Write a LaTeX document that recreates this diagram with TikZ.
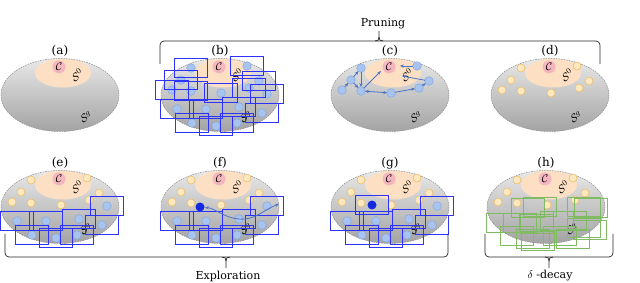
\documentclass[tikz,border=0pt]{standalone}
\usepackage{fontspec}
\setmainfont{DejaVu Serif}
\usetikzlibrary{arrows.meta}
\definecolor{peach}{RGB}{253,224,196}
\definecolor{pinkc}{RGB}{245,182,192}
\definecolor{dotblue}{RGB}{168,196,238}
\definecolor{dotblueline}{RGB}{125,162,225}
\definecolor{dotor}{RGB}{253,233,192}
\definecolor{dotorline}{RGB}{238,188,105}
\definecolor{boxblue}{RGB}{45,50,255}
\definecolor{boxgreen}{RGB}{128,186,98}
\definecolor{arrowblue}{RGB}{75,115,200}
\definecolor{darkdot}{RGB}{20,40,220}
\tikzset{
  space/.style={top color=black!9, bottom color=black!36},
  spaceline/.style={draw=black!45, dash pattern=on 1.6pt off 1pt, line width=0.5pt},
  odot/.style={fill=dotor, draw=dotorline, line width=0.6pt},
  bdot/.style={fill=dotblue, draw=dotblueline, line width=0.4pt},
  ddot/.style={fill=darkdot},
  bbox/.style={draw=boxblue, line width=0.85pt},
  gbox/.style={draw=boxgreen, line width=0.7pt},
  walk/.style={draw=arrowblue, line width=0.8pt, -{Stealth[length=3.8pt,width=3.2pt]}},
  plabel/.style={font=\fontsize{12}{14}\selectfont, inner sep=0pt},
  blabel/.style={font=\fontsize{11}{13}\selectfont, inner sep=0pt},
  slabel/.style={font=\fontsize{11}{13}\selectfont, inner sep=0pt, rotate=35},
  clabel/.style={font=\fontsize{11}{13}\selectfont, inner sep=0pt},
  brace/.style={draw=black!85, line width=0.7pt, rounded corners=4pt}
}
\def\Olist{-29/-25, -39/-13, -48/-3, -29/-2, 1/0, 27/-27, 39/-12, 29/-5}
\def\Blist{47/1, -43/16, -14/16, 19/14, 42/20, -28/30, -4/33, 17/30}
\def\Glist{-18/3, -6/2, 38/2, 45/3, -43/18, -26/18, -9/19, 11/16, 24/16, 38/23, 44/25, -29/31, -13/34, -8/36, 14/31, 27/34}
\newcommand\drawpanel[4]{%
  \begin{scope}[shift={(#1,#2)}]
    \path[space] (0,2) ellipse [x radius=59, y radius=36.5];
    \begin{scope}
      \clip (0,2) ellipse [x radius=59, y radius=36.5];
      \fill[peach] (3,-20) ellipse [x radius=28, y radius=14.5];
    \end{scope}
    \draw[spaceline] (0,2) ellipse [x radius=59, y radius=36.5];
    \fill[pinkc] (-1,-26) circle (6.5);
    \node[clabel] (c#4) at (-1,-26) {$\mathcal{C}$};
    \node[slabel] (si#4) at (17,-18) {$\mathcal{S}^0$};
    \node[slabel] (so#4) at (26,24) {$\mathcal{S}^g$};
    \node[plabel] (l#4) at (0,-42) {(#3)};
  \end{scope}}
\newcommand\odots[2]{\foreach \dx/\dy in \Olist {\draw[odot] ({#1+\dx},{#2+\dy}) circle (4);}}
\newcommand\bdotsO[2]{\foreach \dx/\dy in \Olist {\draw[bdot] ({#1+\dx},{#2+\dy}) circle (4.3);}}
\newcommand\bdotsB[2]{\foreach \dx/\dy in \Blist {\draw[bdot] ({#1+\dx},{#2+\dy}) circle (4.3);}}
\newcommand\bboxesO[2]{\foreach \dx/\dy in \Olist {\draw[bbox] ({#1+\dx-16.7},{#2+\dy-9.5}) rectangle ++(33.4,19);}}
\newcommand\bboxesB[2]{\foreach \dx/\dy in \Blist {\draw[bbox] ({#1+\dx-16.7},{#2+\dy-9.5}) rectangle ++(33.4,19);}}
\begin{document}
\begin{tikzpicture}[x=1pt,y=-1pt]
\useasboundingbox (0,0) rectangle (640,283);
% ---------- top row ----------
\drawpanel{60}{93}{a}{a}
\drawpanel{220}{93}{b}{b}
\bdotsO{220}{93}\bdotsB{220}{93}
\bboxesO{220}{93}\bboxesB{220}{93}
\drawpanel{390}{93}{c}{c}
\bdotsO{390}{93}
\coordinate (p1) at (361,68);
\coordinate (p2) at (351,80);
\coordinate (p3) at (342,90);
\coordinate (p4) at (361,91);
\coordinate (p5) at (391,93);
\coordinate (p6) at (417,66);
\coordinate (p7) at (429,81);
\coordinate (p8) at (419,88);
\coordinate (t6) at (400,66);
\coordinate (t4) at (381,71);
\coordinate (t7) at (402,76);
\draw[walk, shorten <=4pt, shorten >=4pt] (p3) -- (p2);
\draw[walk, shorten <=4pt, shorten >=4pt] (p2) -- (p1);
\draw[walk, shorten <=4pt, shorten >=4pt] (p1) -- (p4);
\draw[walk, shorten <=4pt, shorten >=4pt] (p2) -- (p4);
\draw[walk, {Stealth[length=3.8pt,width=3.2pt]}-{Stealth[length=3.8pt,width=3.2pt]}, shorten <=4pt, shorten >=4pt] (p4) -- (p5);
\draw[walk, shorten <=4pt, shorten >=4pt] (p5) -- (p8);
\draw[walk, shorten <=4pt, shorten >=4pt] (p8) -- (p7);
\draw[walk, shorten <=4pt] (p7) -- (t7);
\draw[walk, shorten <=4pt] (p6) -- (t6);
\draw[walk, shorten <=4pt] (p4) -- (t4);
\drawpanel{550}{93}{d}{d}
\odots{550}{93}
% ---------- bottom row ----------
\drawpanel{60}{205}{e}{e}
\odots{60}{205}\bdotsB{60}{205}\bboxesB{60}{205}
\drawpanel{220}{205}{f}{f}
\odots{220}{205}\bdotsB{220}{205}\bboxesB{220}{205}
\fill[ddot] (200,207) circle (4.5);
\coordinate (fd) at (200,207);
\coordinate (fb) at (239,219);
\coordinate (fe) at (279,204);
\draw[walk, {Stealth[length=3.8pt,width=3.2pt]}-{Stealth[length=3.8pt,width=3.2pt]}, shorten <=5pt] (fd) to[out=-5,in=175] (fb) to[out=-5,in=200] (fe);
\drawpanel{390}{205}{g}{g}
\odots{390}{205}\bdotsB{390}{205}\bboxesB{390}{205}
\fill[ddot] (372,205) circle (4.5);
\draw[bbox] (355.3,195.5) rectangle ++(33.4,19);
\drawpanel{546}{205}{h}{h}
\odots{546}{205}
\foreach \dx/\dy in \Glist {\draw[gbox] ({546+\dx-16.7},{205+\dy-9.5}) rectangle ++(33.4,19);}
% ---------- brackets ----------
\draw[brace] (160,64) -- (160,41) -- (600,41) -- (600,64);
\draw[brace, rounded corners=0pt] (375,41) .. controls (378,41) and (379,40) .. (379,37) -- (379,31);
\draw[brace, rounded corners=0pt] (383,41) .. controls (380,41) and (379,40) .. (379,37);
\node[blabel] (prun) at (383,24) {Pruning};
\draw[brace] (5,234) -- (5,257) -- (448,257) -- (448,234);
\draw[brace, rounded corners=0pt] (222,257) .. controls (225,257) and (226,258) .. (226,261) -- (226,268);
\draw[brace, rounded corners=0pt] (230,257) .. controls (227,257) and (226,258) .. (226,261);
\node[blabel] (expl) at (228,276) {Exploration};
\draw[brace] (485,234) -- (485,257) -- (613,257) -- (613,234);
\draw[brace, rounded corners=0pt] (545,257) .. controls (548,257) and (549,258) .. (549,261) -- (549,268);
\draw[brace, rounded corners=0pt] (553,257) .. controls (550,257) and (549,258) .. (549,261);
\node[blabel] (dec) at (550,276) {$\delta$ -decay};
\end{tikzpicture}
\end{document}
